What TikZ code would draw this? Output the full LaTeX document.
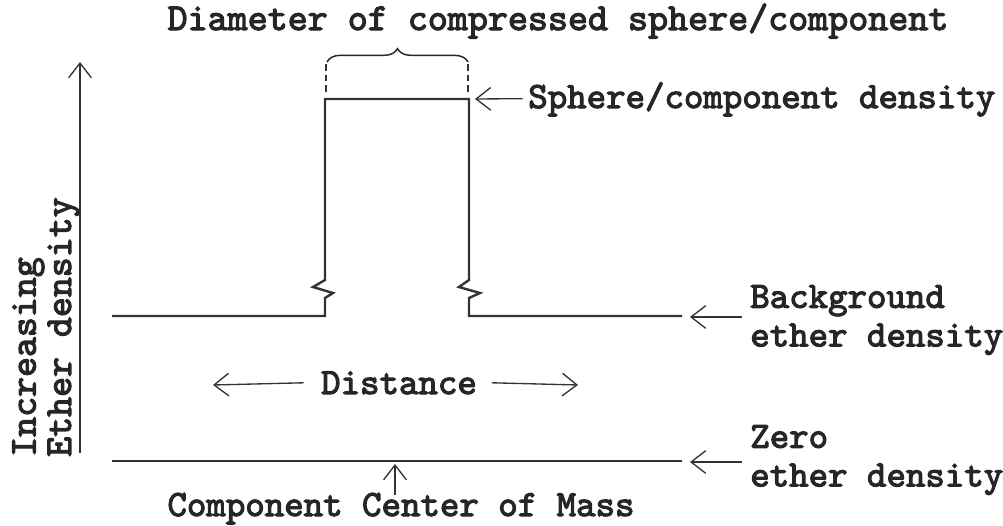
\documentclass[tikz,border=0pt]{standalone}
\usepackage{fontspec}
\newfontfamily\lblfont{lmmono10-regular.otf}[FakeBold=3]
\usepackage{tikz}
\usetikzlibrary{arrows.meta,decorations.pathreplacing}

\begin{document}
\begin{tikzpicture}[x=0.75pt,y=-0.75pt,>={Straight Barb[length=11pt,width=17pt]},
    lbl/.style={font=\fontsize{27.8}{29}\selectfont\lblfont\bfseries,text=black!85,inner sep=0pt},
    curve/.style={line width=1.8pt,draw=black!80},
    pointer/.style={->,line width=1pt,draw=black!80}]
  \useasboundingbox (0,0) rectangle (1003,525);
  % axis
  \coordinate (axbot) at (80,453);
  \coordinate (axtop) at (80,62);
  \draw[pointer] (axbot) -- (axtop);
  \node[lbl,rotate=90,anchor=west,align=left,
    font=\fontsize{28.5}{26.5}\selectfont\lblfont\bfseries] (axlbl) at (46,457) {Increasing\\Ether density};
  % density profile
  \draw[curve] (112,316) -- (325,316) -- (325,298) -- (333,293) -- (313,287) -- (325,280)
    -- (325,99) -- (469,99) -- (469,280) -- (459,287) -- (480,293) -- (469,298)
    -- (469,316) -- (682,316);
  \draw[curve] (112,461) -- (682,461);
  % diameter brace
  \draw[line width=1pt,black!80,dash pattern=on 5pt off 3pt] (326,92) -- (326,62);
  \draw[line width=1pt,black!80,dash pattern=on 5pt off 3pt] (468,92) -- (468,62);
  \draw[line width=1.1pt,black!85,decorate,decoration={brace,amplitude=10pt}] (327,62) -- (468,62);
  \node[lbl,anchor=base,font=\fontsize{28.6}{29}\selectfont\lblfont\bfseries] (diam) at (558,30) {Diameter of compressed sphere/component};
  % labels on the right
  \node[lbl,anchor=base west] (sphere) at (528,108) {Sphere/component density};
  \coordinate (sphtip) at (475,99);
  \draw[pointer] ([xshift=-4pt,yshift=7pt]sphere.base west) -- (sphtip);
  \node[lbl,anchor=west,align=left] (bg) at (750,320) {Background\\ether density};
  \coordinate (bgtip) at (690,317);
  \draw[pointer] (742,317) -- (bgtip);
  \node[lbl,anchor=west,align=left] (zero) at (750,460) {Zero\\ether density};
  \coordinate (zerotip) at (690,462);
  \draw[pointer] (742,462) -- (zerotip);
  % distance
  \node[lbl,anchor=base] (dist) at (399,394) {Distance};
  \coordinate (dleft) at (213,385);
  \coordinate (dright) at (578,385);
  \draw[pointer] ([xshift=-13pt]dist.west) -- (dleft);
  \draw[pointer] ([xshift=11pt]dist.east) -- (dright);
  % centre of mass
  \node[lbl,anchor=base] (com) at (401,516) {Component Center of Mass};
  \coordinate (comtip) at (395,464);
  \draw[pointer] (395,495) -- (comtip);
\end{tikzpicture}
\end{document}
